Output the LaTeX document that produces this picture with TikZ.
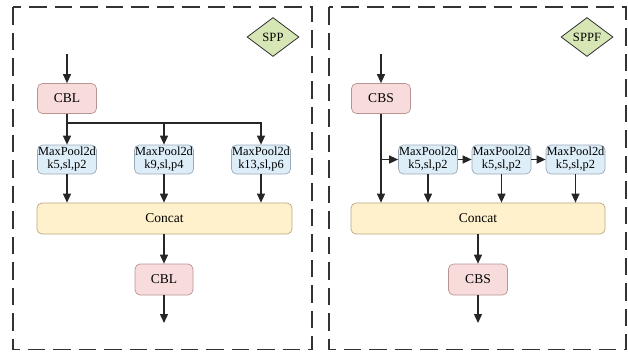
\documentclass[tikz,border=0pt]{standalone}
\usepackage{fontspec}
\setmainfont{Liberation Serif}
\usetikzlibrary{arrows.meta,shapes.geometric}
\definecolor{pinkf}{HTML}{F8DCDC}
\definecolor{pinkd}{HTML}{B89494}
\definecolor{bluef}{HTML}{DDEEF9}
\definecolor{blued}{HTML}{9AAAB8}
\definecolor{yelf}{HTML}{FFF1CC}
\definecolor{yeld}{HTML}{B8A882}
\definecolor{greenf}{HTML}{D6E6B5}
\definecolor{framec}{HTML}{333333}
\tikzset{
  box/.style={rounded corners=5pt, inner sep=0pt, line width=0.7pt, align=center, font=\fontsize{13.5}{14}\selectfont},
  cbx/.style={box, fill=pinkf, draw=pinkd, minimum width=59pt, minimum height=30pt},
  mpx/.style={box, fill=bluef, draw=blued, minimum width=59pt, minimum height=29pt, font=\fontsize{12.4}{13}\selectfont},
  ccx/.style={box, fill=yelf, draw=yeld, minimum height=31pt},
  dmx/.style={diamond, aspect=1.35, fill=greenf, draw=black!80, line width=0.8pt, inner sep=1pt, minimum width=52pt, minimum height=39pt, font=\fontsize{12.6}{13}\selectfont},
  arr/.style={-{Triangle[length=9pt,width=8pt]}, line width=1.3pt, black!85},
  frame/.style={draw=framec, line width=1.4pt, dash pattern=on 17.5pt off 8pt}
}
\begin{document}
\begin{tikzpicture}[x=1pt,y=-1pt]
\useasboundingbox (0,0) rectangle (628,351);
% frames
\draw[frame] (13,7) rectangle (312,349.5);
\draw[frame] (329,7) rectangle (626,349.5);
% ---- SPP ----
\node[dmx] (spp) at (273,37) {SPP};
\coordinate (in1) at (67,54);
\node[cbx] (cblA) at (67,98.5) {CBL};
\coordinate (br1) at (67,123);
\node[mpx] (mpA) at (67,159.5) {MaxPool2d\\k5,sl,p2};
\node[mpx] (mpB) at (164,159.5) {MaxPool2d\\k9,sl,p4};
\node[mpx] (mpC) at (261,159.5) {MaxPool2d\\k13,sl,p6};
\node[ccx, minimum width=255pt] (ccA) at (164.5,218.5) {Concat};
\node[cbx, minimum width=58pt, minimum height=31pt] (cblB) at (164,279.5) {CBL};
\coordinate (out1) at (164,323);
\draw[arr] (in1) -- (cblA.north);
\draw[arr] (cblA.south) -- (mpA.north);
\draw[arr] (br1) -| (mpC.north);
\draw[arr] (mpB.north |- br1) -- (mpB.north);
\draw[arr] (mpA.south) -- (mpA.south |- ccA.north);
\draw[arr] (mpB.south) -- (mpB.south |- ccA.north);
\draw[arr] (mpC.south) -- (mpC.south |- ccA.north);
\draw[arr] (ccA.south -| cblB.north) -- (cblB.north);
\draw[arr] (cblB.south) -- (out1);
% ---- SPPF ----
\node[dmx] (sppf) at (587,37) {SPPF};
\coordinate (in2) at (381,54);
\node[cbx] (cbsA) at (381,98.5) {CBS};
\node[mpx] (mpD) at (428,159.5) {MaxPool2d\\k5,sl,p2};
\node[mpx] (mpE) at (501.5,159.5) {MaxPool2d\\k5,sl,p2};
\node[mpx] (mpF) at (575.5,159.5) {MaxPool2d\\k5,sl,p2};
\node[ccx, minimum width=254pt] (ccB) at (478,218.5) {Concat};
\node[cbx, minimum width=59pt, minimum height=31pt] (cbsB) at (478,279.5) {CBS};
\coordinate (out2) at (478,323);
\draw[arr] (in2) -- (cbsA.north);
\draw[arr] (cbsA.south) -- (cbsA.south |- ccB.north);
\draw[arr] (cbsA.south |- mpD.west) -- (mpD.west);
\draw[arr] (mpD.east) -- (mpE.west);
\draw[arr] (mpE.east) -- (mpF.west);
\draw[arr] (mpD.south) -- (mpD.south |- ccB.north);
\draw[arr] (mpE.south) -- (mpE.south |- ccB.north);
\draw[arr] (mpF.south) -- (mpF.south |- ccB.north);
\draw[arr] (ccB.south) -- (cbsB.north);
\draw[arr] (cbsB.south) -- (out2);
\end{tikzpicture}
\end{document}
